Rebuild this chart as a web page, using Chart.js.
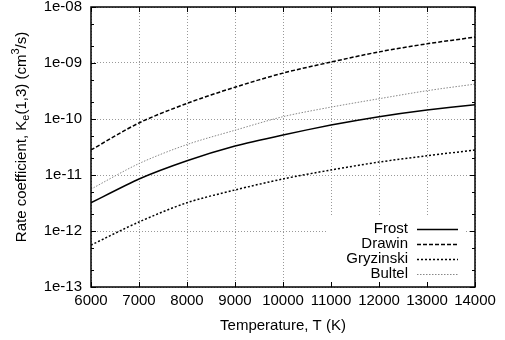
<!DOCTYPE html>
<html>
<head>
<meta charset="utf-8">
<script src="https://cdn.jsdelivr.net/npm/chart.js@4"></script>
<style>
  body { margin: 0; background: #fff; }
</style>
</head>
<body>
<canvas id="myChart" width="505" height="340"></canvas>
<script>
  const temps = [6000, 7000, 8000, 9000, 10000, 11000, 12000, 13000, 14000];
  const frost = [3.2e-12, 8.5e-12, 1.8e-11, 3.3e-11, 5.2e-11, 7.8e-11, 1.1e-10, 1.45e-10, 1.8e-10];
  const drawin = [2.8e-11, 8.5e-11, 1.9e-10, 3.7e-10, 6.6e-10, 1.04e-9, 1.58e-9, 2.2e-9, 2.9e-9];
  const gryzinski = [5.6e-13, 1.45e-12, 3.2e-12, 5.4e-12, 8.5e-12, 1.23e-11, 1.7e-11, 2.2e-11, 2.8e-11];
  const bultel = [5.6e-12, 1.6e-11, 3.5e-11, 6.3e-11, 1.1e-10, 1.63e-10, 2.3e-10, 3.2e-10, 4.2e-10];

  const xTicks = [6000, 7000, 8000, 9000, 10000, 11000, 12000, 13000, 14000];
  const yMajor = [1e-13, 1e-12, 1e-11, 1e-10, 1e-9, 1e-8];
  const yLabels = ["1e-13", "1e-12", "1e-11", "1e-10", "1e-09", "1e-08"];
  const yMinorMult = [2, 5];

  const FONT = "'Liberation Sans', Arial, Helvetica, sans-serif";
  const FS = 15;

  function pts(arr) {
    return temps.map((t, i) => ({ x: t, y: arr[i] }));
  }

  function isMajor(v) {
    const l = Math.log10(v);
    return Math.abs(l - Math.round(l)) < 1e-6;
  }

  // gnuplot look: full frame, inward ticks, opaque key, y title with sub/superscript
  const gnuplotLook = {
    id: "gnuplotLook",
    beforeDatasetsDraw(chart) {
      const ctx = chart.ctx;
      // blank area behind the key
      ctx.save();
      ctx.fillStyle = "#fff";
      ctx.fillRect(326, 216, 140, 68);
      ctx.restore();
    },
    afterDatasetsDraw(chart) {
      const ctx = chart.ctx;
      const a = chart.chartArea;
      const xs = chart.scales.x;
      const ys = chart.scales.y;
      ctx.save();
      ctx.strokeStyle = "#000";
      ctx.lineWidth = 1;
      ctx.setLineDash([]);
      ctx.beginPath();
      xTicks.forEach(v => {
        const px = Math.round(xs.getPixelForValue(v)) + 0.5;
        ctx.moveTo(px, a.bottom); ctx.lineTo(px, a.bottom - 5);
        ctx.moveTo(px, a.top); ctx.lineTo(px, a.top + 5);
      });
      ys.ticks.forEach(t => {
        const py = Math.round(ys.getPixelForValue(t.value)) + 0.5;
        const len = isMajor(t.value) ? 5 : 3;
        ctx.moveTo(a.left, py); ctx.lineTo(a.left + len, py);
        ctx.moveTo(a.right, py); ctx.lineTo(a.right - len, py);
      });
      ctx.stroke();
      ctx.lineWidth = 1.5;
      ctx.strokeRect(a.left, a.top, a.right - a.left, a.bottom - a.top);

      // key
      ctx.font = FS + "px " + FONT;
      ctx.textBaseline = "middle";
      ctx.textAlign = "right";
      chart.data.datasets.forEach((ds, i) => {
        const y = 229 + i * 15;
        ctx.fillStyle = "#000";
        ctx.fillText(ds.label, 408, y);
        ctx.strokeStyle = ds.borderColor;
        ctx.lineWidth = ds.borderWidth;
        ctx.setLineDash(ds.borderDash || []);
        ctx.beginPath();
        ctx.moveTo(417, y + 0.5);
        ctx.lineTo(458, y + 0.5);
        ctx.stroke();
      });
      ctx.setLineDash([]);

      // y title
      ctx.translate(26, 137);
      ctx.rotate(-Math.PI / 2);
      ctx.fillStyle = "#000";
      ctx.textAlign = "left";
      ctx.textBaseline = "alphabetic";
      const parts = [
        ["Rate coefficient, K", FS, 0],
        ["e", 11, 3],
        ["(1,3) (cm", FS, 0],
        ["3", 11, -7],
        ["/s)", FS, 0]
      ];
      let total = 0;
      parts.forEach(p => { ctx.font = p[1] + "px " + FONT; total += ctx.measureText(p[0]).width; });
      let x = -total / 2;
      parts.forEach(p => {
        ctx.font = p[1] + "px " + FONT;
        ctx.fillText(p[0], x, p[2]);
        x += ctx.measureText(p[0]).width;
      });
      ctx.restore();
    }
  };

  new Chart(document.getElementById("myChart"), {
    type: "line",
    data: {
      datasets: [
        { label: "Frost", data: pts(frost), borderColor: "#000", borderWidth: 1.5, tension: 0.2 },
        { label: "Drawin", data: pts(drawin), borderColor: "#000", borderWidth: 1.5, borderDash: [4, 2], tension: 0.3 },
        { label: "Gryzinski", data: pts(gryzinski), borderColor: "#000", borderWidth: 1.5, borderDash: [2, 2], tension: 0.3 },
        { label: "Bultel", data: pts(bultel), borderColor: "#888", borderWidth: 1, borderDash: [1.5, 1.5], tension: 0.3 },
      ],
    },
    options: {
      responsive: false,
      animation: false,
      events: [],
      elements: { point: { radius: 0 } },
      layout: { padding: { left: 0, right: 30, top: 7, bottom: 0 } },
      plugins: {
        legend: { display: false },
        tooltip: { enabled: false },
      },
      scales: {
        x: {
          type: "linear",
          min: 6000,
          max: 14000,
          afterBuildTicks: s => { s.ticks = xTicks.map(v => ({ value: v })); },
          afterFit: s => { s.height = 53; s.paddingLeft = 0; s.paddingRight = 0; },
          ticks: {
            color: "#000",
            font: { family: FONT, size: FS },
            padding: 5,
            maxRotation: 0,
            autoSkip: false,
            callback: v => String(v),
          },
          grid: { color: "#999", lineWidth: 1, drawTicks: false, tickLength: 0 },
          border: { display: false, dash: [1, 2] },
          title: { display: true, text: "Temperature, T (K)", color: "#000", font: { family: FONT, size: FS }, padding: { top: 4, bottom: 5 } },
        },
        y: {
          type: "logarithmic",
          min: 1e-13,
          max: 1e-8,
          afterBuildTicks: s => {
            const t = [];
            yMajor.forEach(v => {
              t.push({ value: v });
              if (v < 1e-8) yMinorMult.forEach(m => t.push({ value: v * m }));
            });
            s.ticks = t;
          },
          afterFit: s => { s.width = 91; s.paddingTop = 0; s.paddingBottom = 0; },
          ticks: {
            color: "#000",
            font: { family: FONT, size: FS },
            padding: 9,
            autoSkip: false,
            callback: v => {
              const i = yMajor.findIndex(m => Math.abs(m - v) / m < 1e-6);
              return i >= 0 ? yLabels[i] : "";
            },
          },
          grid: {
            color: c => (c.tick && isMajor(c.tick.value) ? "#999" : "rgba(0,0,0,0)"),
            lineWidth: 1,
            drawTicks: false,
            tickLength: 0,
          },
          border: { display: false, dash: [1, 2] },
        },
      },
    },
    plugins: [gnuplotLook],
  });
</script>
</body>
</html>
